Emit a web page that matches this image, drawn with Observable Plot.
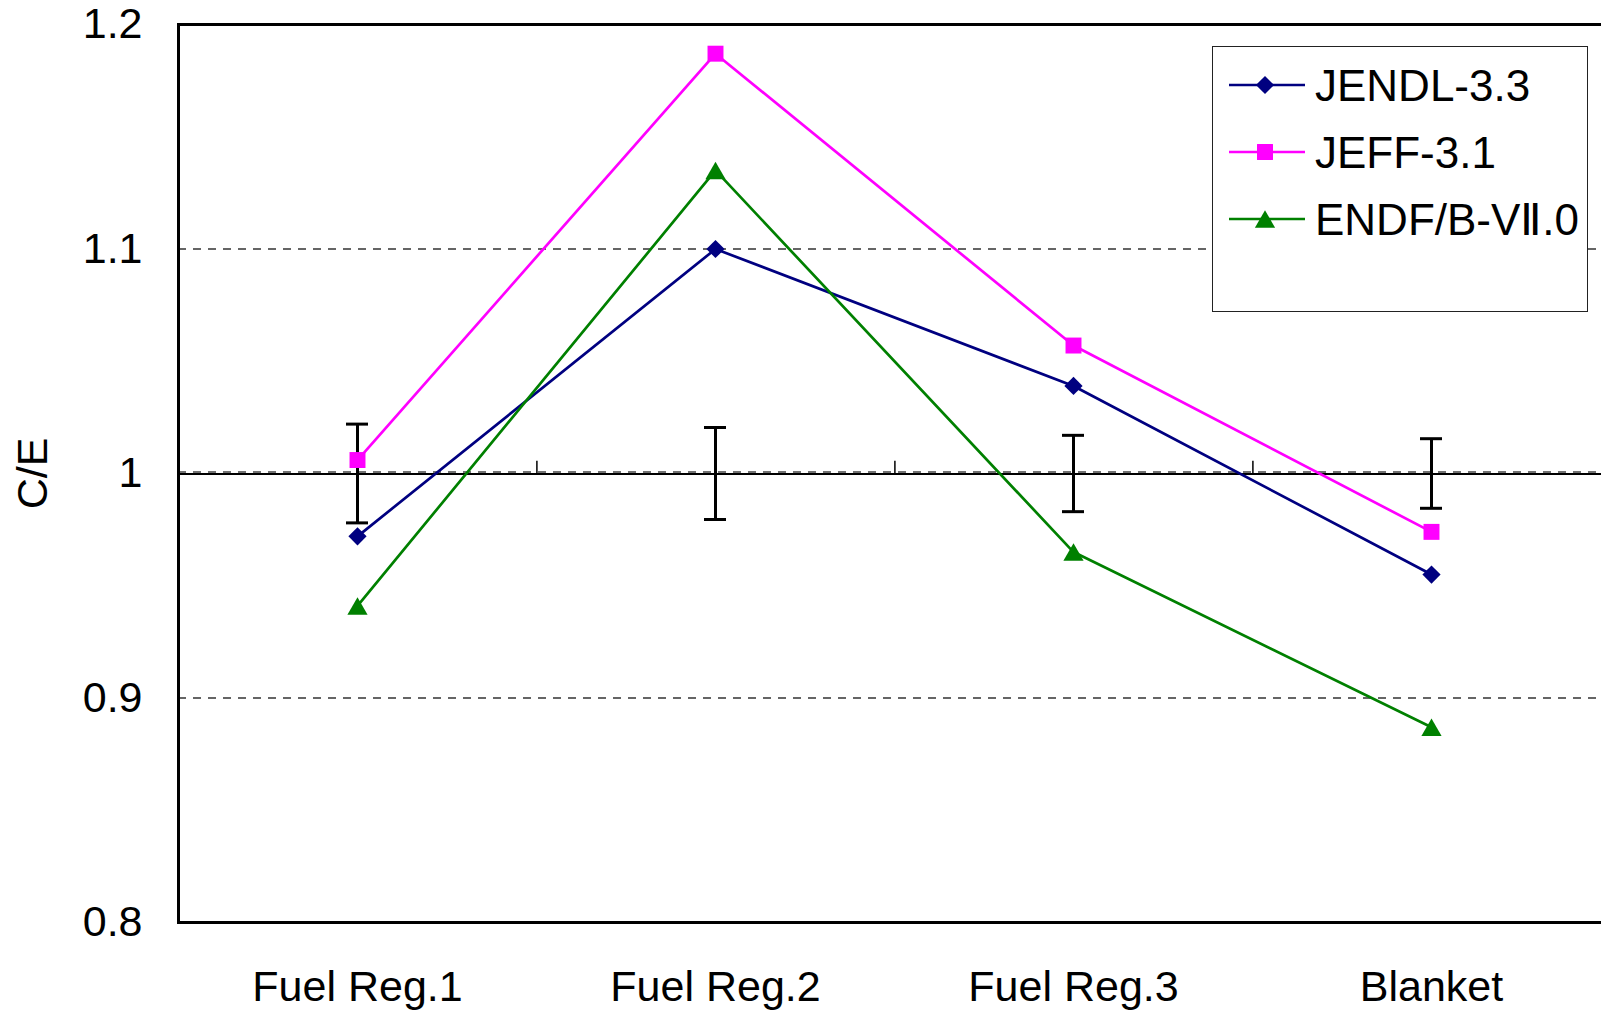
<!DOCTYPE html>
<html>
<head>
<meta charset="utf-8">
<script src="https://cdn.jsdelivr.net/npm/d3@7"></script>
<script src="https://cdn.jsdelivr.net/npm/@observablehq/plot@0.6"></script>
<style>
  html, body { margin: 0; padding: 0; background: white; overflow: hidden; }
  #wrap { position: relative; width: 1601px; height: 1011px; }
  #legend { position: absolute; left: 1212px; top: 46px; width: 376px; height: 266px;
            border: 1.5px solid #222; background: white; box-sizing: border-box; }
</style>
</head>
<body>
<div id="wrap"></div>
<script>
// ---- data ----
const categories = ["Fuel Reg.1", "Fuel Reg.2", "Fuel Reg.3", "Blanket"];
const seriesNames = ["JENDL-3.3", "JEFF-3.1", "ENDF/B-VⅡ.0"];
const seriesLabels = ["JENDL-3.3", "JEFF-3.1", "ENDF/B-VⅡ.0"];
const jendl = [0.972, 1.100, 1.039, 0.955];
const jeff  = [1.006, 1.187, 1.057, 0.974];
const endf  = [0.941, 1.135, 0.965, 0.887];
const expValue = [1.0, 1.0, 1.0, 1.0];
const expErr = [0.022, 0.0205, 0.017, 0.0155];
const yTicks = [0.8, 0.9, 1.0, 1.1, 1.2];
const gridValues = [0.9, 1.1];
const colors = ["#000080", "#FF00FF", "#008000"];

// ---- derived tables ----
const seriesValues = [jendl, jeff, endf];
const rows = seriesNames.flatMap((s, i) => categories.map((c, j) => ({series: s, cat: c, value: seriesValues[i][j]})));
const errRows = categories.map((c, j) => ({cat: c, lo: expValue[j] - expErr[j], hi: expValue[j] + expErr[j]}));
const byS = s => rows.filter(d => d.series === s);

const font = "'Liberation Sans', Arial, sans-serif";
const rDiamond = 8.2, rSquare = 9.0, rTriangle = 7.5;

const chart = Plot.plot({
  width: 1601,
  height: 1011,
  marginLeft: 178,
  marginTop: 24,
  marginBottom: 89,
  marginRight: -9,
  style: {fontFamily: font, fontSize: "43px", color: "black", background: "white", overflow: "hidden"},
  x: {type: "band", domain: categories, padding: 0, range: [176, 1611], label: null},
  y: {domain: [0.8, 1.2], label: null},
  color: {domain: seriesNames, range: colors},
  marks: [
    Plot.ruleY(gridValues, {stroke: "#333", strokeWidth: 1.5, strokeDasharray: "8,7"}),
    Plot.ruleY([1.0], {stroke: "#444", strokeWidth: 1.5, strokeDasharray: "8,7", dy: -1.5}),
    Plot.ruleY([1.0], {stroke: "black", strokeWidth: 2, dy: 0.5}),
    Plot.ruleX(categories.slice(0, 3), {x: d => d, y1: 1.0, y2: 1.0055, stroke: "black", strokeWidth: 1.5, dx: 179.4}),
    Plot.axisY({ticks: yTicks, tickSize: 0, tickPadding: 36, tickFormat: d => String(Math.round(d * 10) / 10), fontSize: 43}),
    Plot.axisX({tickSize: 0, tickPadding: 48, fontSize: 43}),
    Plot.text(["C/E"], {frameAnchor: "left", dx: -145, rotate: -90, fontSize: 43, textAnchor: "middle", lineAnchor: "middle"}),
    Plot.ruleX(errRows, {x: "cat", y1: "lo", y2: "hi", stroke: "black", strokeWidth: 3}),
    Plot.tickY(errRows, {x: "cat", y: "lo", stroke: "black", strokeWidth: 3, insetLeft: 168, insetRight: 168}),
    Plot.tickY(errRows, {x: "cat", y: "hi", stroke: "black", strokeWidth: 3, insetLeft: 168, insetRight: 168}),
    Plot.line(rows, {x: "cat", y: "value", z: "series", stroke: "series", strokeWidth: 2.7}),
    Plot.dot(byS(seriesNames[0]), {x: "cat", y: "value", symbol: "diamond2", r: rDiamond, fill: colors[0], stroke: "none"}),
    Plot.dot(byS(seriesNames[1]), {x: "cat", y: "value", symbol: "square", r: rSquare, fill: colors[1], stroke: "none"}),
    Plot.dot(byS(seriesNames[2]), {x: "cat", y: "value", symbol: "triangle", r: rTriangle, fill: colors[2], stroke: "none", dy: 2.9}),
    Plot.frame({stroke: "black", strokeWidth: 3})
  ]
});

const wrap = document.getElementById("wrap");
wrap.appendChild(chart);

// ---- legend (inside plot area, top right) ----
const leg = d3.select(wrap).append("div").attr("id", "legend");
const lsvg = leg.append("svg").attr("width", 376).attr("height", 266).style("display", "block");
const symbols = [d3.symbolDiamond2, d3.symbolSquare, d3.symbolTriangle];
const sizes = [Math.PI * rDiamond * rDiamond, Math.PI * rSquare * rSquare, Math.PI * rTriangle * rTriangle];
const rowY = [38, 105, 172];
seriesLabels.forEach((label, i) => {
  const g = lsvg.append("g").attr("transform", `translate(0,${rowY[i]})`);
  g.append("line").attr("x1", 16).attr("x2", 92).attr("y1", 0).attr("y2", 0)
    .attr("stroke", colors[i]).attr("stroke-width", 2.7);
  g.append("path").attr("d", d3.symbol(symbols[i], sizes[i])())
    .attr("transform", `translate(52,${i === 2 ? 2.9 : 0})`).attr("fill", colors[i]);
  g.append("text").attr("x", 102).attr("y", 0).attr("dy", "0.36em")
    .attr("font-family", font).attr("font-size", 44).attr("fill", "black").text(label);
});
</script>
</body>
</html>
